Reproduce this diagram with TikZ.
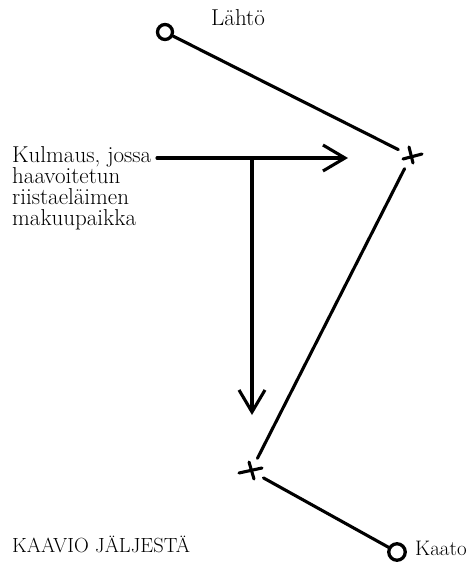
\documentclass[tikz,border=0pt]{standalone}
\usetikzlibrary{arrows.meta}
\begin{document}
\begin{tikzpicture}[x=1pt,y=-1pt,
  ink/.style={line width=3.1pt, line cap=round},
  endpt/.style={circle, draw, line width=3.3pt, minimum size=15pt, inner sep=0pt},
  crossnode/.style={circle, minimum size=28pt, inner sep=0pt},
  lbl/.style={inner sep=0pt, font=\fontsize{23}{21}\selectfont},
  chev/.style={-{Straight Barb[length=22pt,width=26pt,line width=3.1pt]}}
]
\useasboundingbox (0,0) rectangle (470,565);
% route points
\node[endpt] (start) at (165,32) {};
\node[crossnode] (c1) at (411,156) {};
\node[crossnode] (c2) at (251,471) {};
\node[endpt, minimum size=16.5pt] (end) at (397,552) {};
% crosses
\draw[ink] ([shift={(-8,3)}]c1.center) -- ([shift={(11,-2)}]c1.center);
\draw[ink] ([shift={(-2,-9)}]c1.center) -- ([shift={(2,7)}]c1.center);
\draw[ink] ([shift={(-12,2)}]c2.center) -- ([shift={(11,-3)}]c2.center);
\draw[ink] ([shift={(-2,-9)}]c2.center) -- ([shift={(3,8)}]c2.center);
% track
\draw[ink] (start) -- (c1);
\draw[ink] (c1) -- (c2);
\draw[ink] (c2) -- (end);
% labels
\node[lbl, anchor=base west] (lahto) at (211,25) {Lähtö};
\node[lbl, anchor=north west, align=left] (note) at (12,146)
  {Kulmaus, jossa\\haavoitetun\\riistaeläimen\\makuupaikka};
\node[lbl, anchor=base west, font=\fontsize{20.5}{22}\selectfont] (title) at (12,552) {KAAVIO JÄLJESTÄ};
\node[lbl, anchor=base west, font=\fontsize{21}{22}\selectfont] (kaato) at (415,555) {Kaato};
% arrows
\coordinate (hs) at (157,158);
\coordinate (ht) at (348,158);
\coordinate (vj) at (252,158);
\coordinate (vt) at (252,415);
\draw[ink, chev] (hs) -- (ht);
\draw[ink, chev] (vj) -- (vt);
\end{tikzpicture}
\end{document}
